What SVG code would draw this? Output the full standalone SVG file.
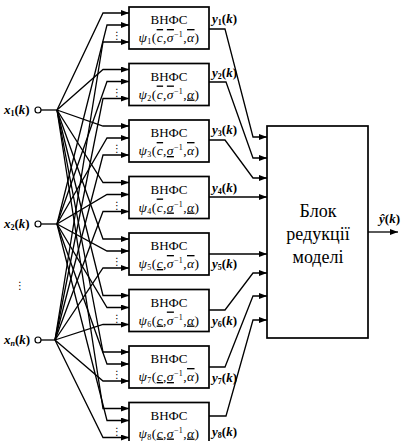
<svg xmlns="http://www.w3.org/2000/svg" width="405" height="441" viewBox="0 0 405 441" font-family="'Liberation Serif', 'DejaVu Serif', serif">
<style>
.bx{fill:#fff;stroke:#000;stroke-width:1.7}
.ln{fill:none;stroke:#000;stroke-width:1.3}
.t{font-family:'Liberation Serif','DejaVu Serif',serif;fill:#000}
.h{font-size:13px;text-anchor:middle}
.f{font-size:13.5px;text-anchor:middle;letter-spacing:0.4px}
.i{font-style:italic}
.o{text-decoration:overline}
.u{text-decoration:underline}
.lab{font-size:13px;font-weight:bold}
.dots{font-family:'DejaVu Sans',sans-serif;font-size:10px;text-anchor:middle}
</style>
<defs>
<marker id="ar" markerUnits="userSpaceOnUse" markerWidth="8" markerHeight="6" refX="8" refY="3" orient="auto">
<path d="M0,0 L8,3 L0,6 z" fill="#000"/>
</marker>
</defs>

<g id="inputs">
<g id="x1">
<circle cx="38" cy="110" r="3" fill="#fff" stroke="#000" stroke-width="1.2"/>
<path class="ln" d="M41 110 H57"/>
<text class="t lab" x="4" y="114"><tspan class="i">x</tspan><tspan font-size="8" dy="2">1</tspan><tspan dy="-2">(</tspan><tspan class="i">k</tspan>)</text>
</g>
<g id="x2">
<circle cx="38" cy="224" r="3" fill="#fff" stroke="#000" stroke-width="1.2"/>
<path class="ln" d="M41 224 H57"/>
<text class="t lab" x="4" y="228"><tspan class="i">x</tspan><tspan font-size="8" dy="2">2</tspan><tspan dy="-2">(</tspan><tspan class="i">k</tspan>)</text>
</g>
<text class="dots" x="20" y="289">⋮</text>
<g id="xn">
<circle cx="38" cy="340" r="3" fill="#fff" stroke="#000" stroke-width="1.2"/>
<path class="ln" d="M41 340 H55"/>
<text class="t lab" x="4" y="344"><tspan class="i">x</tspan><tspan font-size="8" dy="2" class="i">n</tspan><tspan dy="-2">(</tspan><tspan class="i">k</tspan>)</text>
</g>
</g>

<g id="connectors" class="ln" marker-end="url(#ar)">
<path d="M57 110 L103 13 H129"/>
<path d="M57 110 L103 69.5 H129"/>
<path d="M57 110 L103 126 H129"/>
<path d="M57 110 L103 182.5 H129"/>
<path d="M57 110 L103 239 H129"/>
<path d="M57 110 L103 295.5 H129"/>
<path d="M57 110 L103 352 H129"/>
<path d="M57 110 L103 408.5 H129"/>
<path d="M57 224 L107 25 H129"/>
<path d="M57 224 L107 81.5 H129"/>
<path d="M57 224 L107 138 H129"/>
<path d="M57 224 L107 194.5 H129"/>
<path d="M57 224 L107 251 H129"/>
<path d="M57 224 L107 307.5 H129"/>
<path d="M57 224 L107 364 H129"/>
<path d="M57 224 L107 420.5 H129"/>
<path d="M55 340 L103 42 H129"/>
<path d="M55 340 L103 98.5 H129"/>
<path d="M55 340 L103 155 H129"/>
<path d="M55 340 L103 211.5 H129"/>
<path d="M55 340 L103 268 H129"/>
<path d="M55 340 L103 324.5 H129"/>
<path d="M55 340 L103 381 H129"/>
<path d="M55 340 L103 437.5 H129"/>
<path d="M209 29 H225 L253 137 H267"/>
<path d="M209 82 H226 L253 158 H267"/>
<path d="M209 140 H225 L253 178 H267"/>
<path d="M209 197 H267"/>
<path d="M209 254 H267"/>
<path d="M209 310 H225 L253 273 H267"/>
<path d="M209 367 H225 L253 296 H267"/>
<path d="M209 416 H226 L253 320 H267"/>
<path d="M368 232 H398"/>
</g>

<g id="block1">
<rect class="bx" x="129" y="7" width="80" height="42"/>
<text class="t h" x="169" y="24">ВНФС</text>
<text class="t f" x="169" y="42"><tspan class="i">ψ</tspan><tspan font-size="8" dy="2">1</tspan><tspan dy="-2">(</tspan><tspan class="i o">c</tspan>,<tspan class="i o">σ</tspan><tspan font-size="8" dy="-5">−1</tspan><tspan dy="5">,</tspan><tspan class="i o">α</tspan>)</text>
<text class="dots" x="117" y="39">⋮</text>
</g>
<g id="block2">
<rect class="bx" x="129" y="63.5" width="80" height="42"/>
<text class="t h" x="169" y="80.5">ВНФС</text>
<text class="t f" x="169" y="98.5"><tspan class="i">ψ</tspan><tspan font-size="8" dy="2">2</tspan><tspan dy="-2">(</tspan><tspan class="i o">c</tspan>,<tspan class="i o">σ</tspan><tspan font-size="8" dy="-5">−1</tspan><tspan dy="5">,</tspan><tspan class="i u">α</tspan>)</text>
<text class="dots" x="117" y="95.5">⋮</text>
</g>
<g id="block3">
<rect class="bx" x="129" y="120" width="80" height="42"/>
<text class="t h" x="169" y="137">ВНФС</text>
<text class="t f" x="169" y="155"><tspan class="i">ψ</tspan><tspan font-size="8" dy="2">3</tspan><tspan dy="-2">(</tspan><tspan class="i o">c</tspan>,<tspan class="i u">σ</tspan><tspan font-size="8" dy="-5">−1</tspan><tspan dy="5">,</tspan><tspan class="i o">α</tspan>)</text>
<text class="dots" x="117" y="152">⋮</text>
</g>
<g id="block4">
<rect class="bx" x="129" y="176.5" width="80" height="42"/>
<text class="t h" x="169" y="193.5">ВНФС</text>
<text class="t f" x="169" y="211.5"><tspan class="i">ψ</tspan><tspan font-size="8" dy="2">4</tspan><tspan dy="-2">(</tspan><tspan class="i o">c</tspan>,<tspan class="i u">σ</tspan><tspan font-size="8" dy="-5">−1</tspan><tspan dy="5">,</tspan><tspan class="i u">α</tspan>)</text>
<text class="dots" x="117" y="208.5">⋮</text>
</g>
<g id="block5">
<rect class="bx" x="129" y="233" width="80" height="42"/>
<text class="t h" x="169" y="250">ВНФС</text>
<text class="t f" x="169" y="268"><tspan class="i">ψ</tspan><tspan font-size="8" dy="2">5</tspan><tspan dy="-2">(</tspan><tspan class="i u">c</tspan>,<tspan class="i o">σ</tspan><tspan font-size="8" dy="-5">−1</tspan><tspan dy="5">,</tspan><tspan class="i o">α</tspan>)</text>
<text class="dots" x="117" y="265">⋮</text>
</g>
<g id="block6">
<rect class="bx" x="129" y="289.5" width="80" height="42"/>
<text class="t h" x="169" y="306.5">ВНФС</text>
<text class="t f" x="169" y="324.5"><tspan class="i">ψ</tspan><tspan font-size="8" dy="2">6</tspan><tspan dy="-2">(</tspan><tspan class="i u">c</tspan>,<tspan class="i o">σ</tspan><tspan font-size="8" dy="-5">−1</tspan><tspan dy="5">,</tspan><tspan class="i u">α</tspan>)</text>
<text class="dots" x="117" y="321.5">⋮</text>
</g>
<g id="block7">
<rect class="bx" x="129" y="346" width="80" height="42"/>
<text class="t h" x="169" y="363">ВНФС</text>
<text class="t f" x="169" y="381"><tspan class="i">ψ</tspan><tspan font-size="8" dy="2">7</tspan><tspan dy="-2">(</tspan><tspan class="i u">c</tspan>,<tspan class="i u">σ</tspan><tspan font-size="8" dy="-5">−1</tspan><tspan dy="5">,</tspan><tspan class="i o">α</tspan>)</text>
<text class="dots" x="117" y="378">⋮</text>
</g>
<g id="block8">
<rect class="bx" x="129" y="402.5" width="80" height="42"/>
<text class="t h" x="169" y="419.5">ВНФС</text>
<text class="t f" x="169" y="437.5"><tspan class="i">ψ</tspan><tspan font-size="8" dy="2">8</tspan><tspan dy="-2">(</tspan><tspan class="i u">c</tspan>,<tspan class="i u">σ</tspan><tspan font-size="8" dy="-5">−1</tspan><tspan dy="5">,</tspan><tspan class="i u">α</tspan>)</text>
<text class="dots" x="117" y="434.5">⋮</text>
</g>

<g id="outlabels" class="t lab">
<text x="212" y="23"><tspan class="i">y</tspan><tspan font-size="8" dy="2">1</tspan><tspan dy="-2">(</tspan><tspan class="i">k</tspan>)</text>
<text x="212" y="77"><tspan class="i">y</tspan><tspan font-size="8" dy="2">2</tspan><tspan dy="-2">(</tspan><tspan class="i">k</tspan>)</text>
<text x="212" y="134"><tspan class="i">y</tspan><tspan font-size="8" dy="2">3</tspan><tspan dy="-2">(</tspan><tspan class="i">k</tspan>)</text>
<text x="212" y="192"><tspan class="i">y</tspan><tspan font-size="8" dy="2">4</tspan><tspan dy="-2">(</tspan><tspan class="i">k</tspan>)</text>
<text x="212" y="268"><tspan class="i">y</tspan><tspan font-size="8" dy="2">5</tspan><tspan dy="-2">(</tspan><tspan class="i">k</tspan>)</text>
<text x="212" y="325"><tspan class="i">y</tspan><tspan font-size="8" dy="2">6</tspan><tspan dy="-2">(</tspan><tspan class="i">k</tspan>)</text>
<text x="212" y="382"><tspan class="i">y</tspan><tspan font-size="8" dy="2">7</tspan><tspan dy="-2">(</tspan><tspan class="i">k</tspan>)</text>
<text x="212" y="436"><tspan class="i">y</tspan><tspan font-size="8" dy="2">8</tspan><tspan dy="-2">(</tspan><tspan class="i">k</tspan>)</text>
</g>

<g id="reduction">
<rect class="bx" x="267" y="126" width="101" height="212"/>
<text class="t" font-size="18" text-anchor="middle" x="318" y="217">Блок</text>
<text class="t" font-size="18" text-anchor="middle" x="318" y="240">редукції</text>
<text class="t" font-size="18" text-anchor="middle" x="318" y="263">моделі</text>
</g>
<g id="output">
<text class="t lab" x="379" y="223"><tspan class="i">ŷ</tspan>(<tspan class="i">k</tspan>)</text>
</g>
</svg>
